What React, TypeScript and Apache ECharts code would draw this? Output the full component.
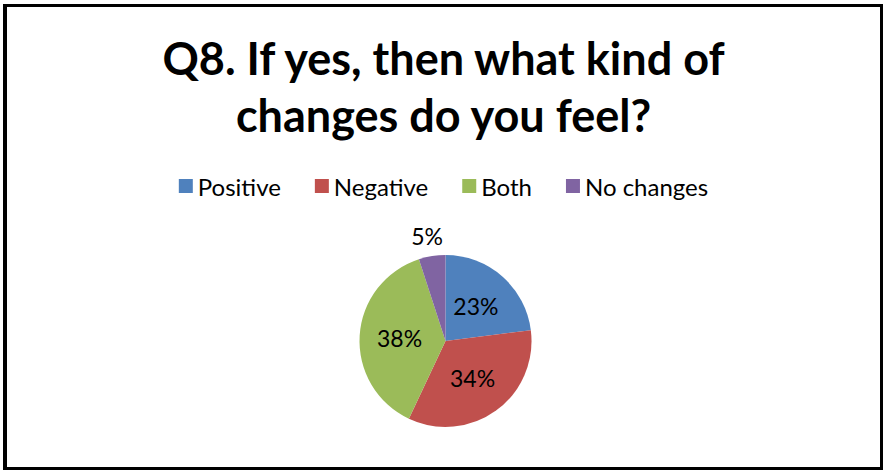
import React, { useEffect, useRef } from "react";
import * as echarts from "echarts";

const categories = ["Positive", "Negative", "Both", "No changes"];
const values = [23, 34, 38, 5];
const colors = ["#4F81BD", "#C0504D", "#9BBB59", "#8064A2"];
const titleText = "Q8. If yes, then what kind of\nchanges do you feel?";

const FONT = "Lato, 'Noto Sans', sans-serif";

export default function App() {
  const ref = useRef<HTMLDivElement>(null);
  useEffect(() => {
    if (!ref.current) return;
    const chart = echarts.init(ref.current, null, { renderer: "svg" });
    chart.setOption({
      animation: false,
      backgroundColor: "#ffffff",
      title: {
        text: titleText,
        left: "center",
        top: 17,
        textStyle: {
          fontFamily: FONT,
          fontWeight: "bold",
          fontSize: 45,
          lineHeight: 57,
          color: "#000000",
        },
      },
      legend: {
        data: categories,
        top: 162,
        left: "center",
        icon: "rect",
        itemWidth: 14,
        itemHeight: 14,
        itemGap: 34,
        textStyle: { fontFamily: FONT, fontSize: 24, color: "#000000" },
      },
      series: [
        {
          type: "pie",
          center: [438.5, 334],
          radius: 86,
          startAngle: 90,
          clockwise: true,
          silent: true,
          label: {
            show: true,
            position: "inside",
            formatter: "{d}%",
            fontFamily: FONT,
            fontSize: 23,
            color: "#000000",
          },
          labelLine: { show: false },
          data: categories.map((name, i) => ({
            name,
            value: values[i],
            itemStyle: { color: colors[i] },
            label:
              i === 3
                ? { position: "outside", distanceToLabelLine: -14 }
                : undefined,
            labelLine: i === 3 ? { show: false, length: 20, length2: 0 } : undefined,
          })),
        },
      ],
    });
    return () => chart.dispose();
  }, []);
  return (
    <div
      style={{
        position: "fixed",
        left: 0,
        top: 0,
        width: 884,
        height: 471,
        background: "#ffffff",
      }}
    >
      <div
        style={{
          position: "absolute",
          left: 3,
          top: 4,
          width: 880,
          height: 466,
          boxSizing: "border-box",
          border: "3px solid #000",
          borderLeftWidth: 4,
        }}
      >
        <div ref={ref} style={{ width: 873, height: 460 }} />
      </div>
    </div>
  );
}
